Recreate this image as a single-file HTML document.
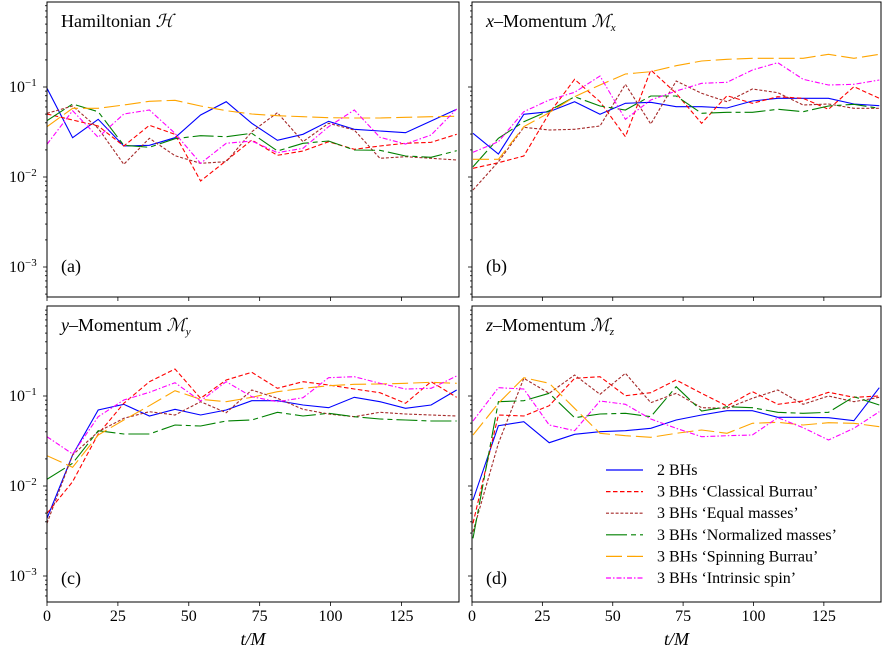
<!DOCTYPE html>
<html><head><meta charset="utf-8"><style>
html,body{margin:0;padding:0;background:#fff}
svg text{font-family:"Liberation Serif","DejaVu Serif",serif;fill:#000}
</style></head><body>
<svg id="s" width="883" height="654" xmlns="http://www.w3.org/2000/svg"></svg>
<script>
const S=document.getElementById('s');let h='';
const panels=[
 {L:47,R:459,T:2,B:297,d1:87,x0:40,y0:40,zx0:21,zx1:1250,title:'Hamiltonian <tspan font-style="italic">ℋ</tspan>',lab:'(a)',ly:272,
  data:{b:[145,293,238,318,316,293,225,185,250,301,283,244,268,273,278,243,208],
  o:[260,205,205,195,184,181,198,212,222,227,230,233,234,234,232,230,229],
  g:[242,192,215,316,322,296,287,290,280,333,310,303,330,331,348,352,332],
  r:[222,240,258,318,256,283,423,362,300,346,333,305,328,318,310,307,283],
  n:[220,198,265,373,295,347,370,365,275,218,305,250,270,355,350,355,360],
  m:[313,212,292,222,210,280,370,310,303,338,325,260,210,292,312,285,207]}},
 {L:472,R:881,T:2,B:297,d1:87,x0:462,y0:20,zx0:33,zx1:1252,title:'<tspan font-style="italic">x</tspan>–Momentum <tspan font-style="italic">ℳ</tspan><tspan font-style="italic" font-size="11" dy="4">x</tspan>',lab:'(b)',ly:272,
  data:{b:[340,402,283,275,245,283,250,247,260,260,264,243,235,235,235,252,257],
  o:[418,418,320,278,230,195,162,155,137,123,118,115,115,115,103,115,103],
  g:[440,355,305,272,230,258,270,228,228,280,277,277,268,275,258,253,265],
  r:[445,428,408,280,178,245,350,150,220,310,227,250,230,235,268,200,235],
  n:[510,425,322,330,328,318,193,312,183,220,245,207,218,255,252,265,265],
  m:[397,365,275,240,217,168,298,240,213,190,187,150,128,178,195,193,180]}},
 {L:47,R:459,T:306,B:602,d1:396,x0:40,y0:340,zx0:21,zx1:1250,title:'<tspan font-style="italic">y</tspan>–Momentum <tspan font-style="italic">ℳ</tspan><tspan font-style="italic" font-size="11" dy="4">y</tspan>',lab:'(c)',ly:584,
  data:{b:[535,345,210,193,228,208,225,210,182,182,195,203,172,185,205,195,150],
  o:[347,382,285,240,197,152,178,185,172,155,145,137,133,132,130,127,130],
  g:[418,370,272,282,282,255,258,243,240,217,228,220,230,237,240,243,243],
  r:[520,425,282,190,125,87,175,120,97,145,125,135,147,158,190,125,172],
  n:[550,345,275,235,215,225,185,218,150,175,208,222,230,217,222,225,228],
  m:[290,342,230,180,157,128,183,125,170,185,173,113,110,130,147,145,108]}},
 {L:472,R:881,T:306,B:602,d1:396,x0:462,y0:340,zx0:33,zx1:1252,title:'<tspan font-style="italic">z</tspan>–Momentum <tspan font-style="italic">ℳ</tspan><tspan font-style="italic" font-size="11" dy="4">z</tspan>',lab:'(d)',ly:584,
  data:{b:[480,257,245,308,283,275,272,265,240,225,212,212,232,232,233,242,143],
  o:[285,190,113,130,205,280,287,292,280,270,280,250,247,255,248,250,260],
  g:[595,185,182,160,233,222,220,230,140,213,200,203,217,220,217,170,195],
  r:[550,225,228,197,115,110,167,158,120,160,198,155,193,183,157,172,168],
  n:[575,310,115,160,105,163,100,188,160,203,205,175,150,193,168,185,172],
  m:[243,143,147,255,272,183,193,237,265,290,287,285,233,263,300,265,215]}}
];
const sty={b:['#0000ff',''],r:['#ff0000','4.5,2.5'],n:['#a52a2a','3,1.8'],g:['#008000','21,4,5,4'],o:['#ffa500','16,5'],m:['#ff00ff','5,2,1.5,2']};
panels.forEach((p,k)=>{
 h+=`<clipPath id="c${k}"><rect x="${p.L}" y="${p.T}" width="${p.R-p.L}" height="${p.B-p.T}"/></clipPath>`;
 h+=`<g clip-path="url(#c${k})">`;
 ['b','r','n','g','o','m'].forEach(s=>{
  const pts=p.data[s].map((v,i)=>{const zx=p.zx0+(p.zx1-p.zx0)*i/16;return (p.x0+zx/3).toFixed(1)+','+(p.y0+v/3).toFixed(1)}).join(' ');
  h+=`<polyline points="${pts}" fill="none" stroke="${sty[s][0]}" stroke-width="1.1" ${sty[s][1]?'stroke-dasharray="'+sty[s][1]+'"':''}/>`;
 });
 h+='</g>';
 h+=`<rect x="${p.L}" y="${p.T}" width="${p.R-p.L}" height="${p.B-p.T}" fill="none" stroke="#000" stroke-width="1"/>`;
 for(let d=0;d<4;d++){
  for(let m=1;m<10;m++){
   const y=p.d1+90*d-90*Math.log10(m);
   if(y<p.T||y>p.B)continue;
   const len=m==1?4:2;
   h+=`<line x1="${p.L-len}" x2="${p.L}" y1="${y}" y2="${y}" stroke="#000" stroke-width="0.8"/>`;
  }
 }
 if(p.L<100){
  for(let d=0;d<3;d++){const y=p.d1+90*d;
   h+=`<text x="9" y="${y+5}" font-size="16">10<tspan font-size="11" dy="-6">−${d+1}</tspan></text>`;}
 }
 const sc=(p.R-p.L)/145.3;
 for(let t=0;t<=125;t+=25){const x=p.L+t*sc;
  h+=`<line x1="${x}" x2="${x}" y1="${p.B}" y2="${p.B+4}" stroke="#000" stroke-width="0.8"/>`;
  if(p.T>300)h+=`<text x="${x}" y="${p.B+19}" font-size="16" text-anchor="middle">${t}</text>`;}
 if(p.T>300)h+=`<text x="${(p.L+p.R)/2}" y="645" font-size="18" text-anchor="middle" font-style="italic">t/M</text>`;
 h+=`<text x="${p.L+14}" y="${p.T+25}" font-size="18">${p.title}</text>`;
 h+=`<text x="${p.L+14}" y="${p.ly}" font-size="18">${p.lab}</text>`;
});
const leg=[['b','2 BHs'],['r','3 BHs ‘Classical Burrau’'],['n','3 BHs ‘Equal masses’'],['g','3 BHs ‘Normalized masses’'],['o','3 BHs ‘Spinning Burrau’'],['m','3 BHs ‘Intrinsic spin’']];
leg.forEach((l,i)=>{const y=470+21.6*i;
 h+=`<line x1="606" x2="643" y1="${y}" y2="${y}" stroke="${sty[l[0]][0]}" stroke-width="1.2" ${sty[l[0]][1]?'stroke-dasharray="'+sty[l[0]][1]+'"':''}/>`;
 h+=`<text x="657" y="${y+5}" font-size="16">${l[1]}</text>`;});
S.innerHTML=h;
</script>
</body></html>
